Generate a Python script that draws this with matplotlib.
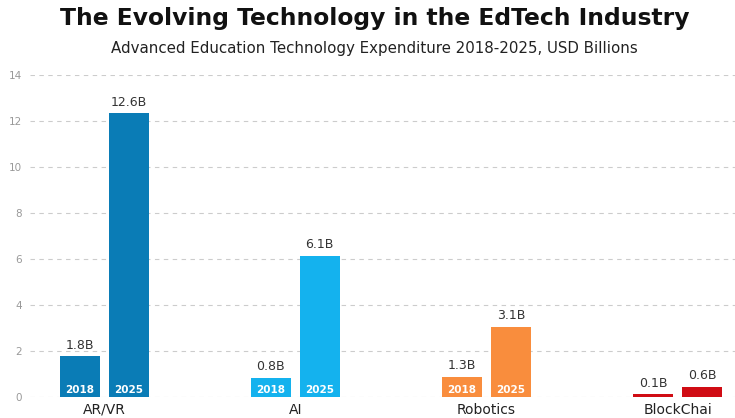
import numpy as np
import matplotlib.pyplot as plt

# Data
categories = ['AR/VR', 'AI', 'Robotics', 'BlockChai']
years = ['2018', '2025']
heights_2018 = [1.78, 0.83, 0.88, 0.13]
heights_2025 = [12.35, 6.15, 3.05, 0.45]
labels_2018 = ['1.8B', '0.8B', '1.3B', '0.1B']
labels_2025 = ['12.6B', '6.1B', '3.1B', '0.6B']
colors = ['#0a7cb6', '#14b2ee', '#f98d3d', '#d00c14']

fig = plt.figure(figsize=(7.35, 4.18), dpi=100)
ax = fig.add_axes([0.041, 0.05, 0.959, 0.77])

x = np.arange(len(categories))
w = 0.21
off = 0.128

for i in range(len(categories)):
    for h, lab, yr, dx in [(heights_2018[i], labels_2018[i], years[0], -off),
                           (heights_2025[i], labels_2025[i], years[1], off)]:
        ax.bar(x[i] + dx, h, width=w, color=colors[i], zorder=3)
        ax.text(x[i] + dx, h + 0.2, lab, ha='center', va='bottom',
                fontsize=9, color='#333333', zorder=4)
        if h > 0.6:
            ax.text(x[i] + dx, 0.3, yr, ha='center', va='center',
                    fontsize=7.5, color='white', fontweight='bold', zorder=4)

ax.set_xlim(-0.387, 3.30)
ax.set_ylim(0, 14)
ax.set_yticks(range(0, 15, 2))
ax.set_xticks(x)
ax.set_xticklabels(categories, fontsize=10, color='#222222')
ax.tick_params(axis='y', labelsize=7.5, labelcolor='#999999', length=0, pad=6)
ax.tick_params(axis='x', length=0, pad=4)
ax.yaxis.grid(True, linestyle=(0, (4, 4)), color='#cccccc', linewidth=0.8, zorder=0)
for s in ax.spines.values():
    s.set_visible(False)

fig.text(0.51, 0.955, 'The Evolving Technology in the EdTech Industry',
         ha='center', va='center', fontsize=16.8, fontweight='bold', color='#111111')
fig.text(0.51, 0.885, 'Advanced Education Technology Expenditure 2018-2025, USD Billions',
         ha='center', va='center', fontsize=10.8, color='#222222')

plt.savefig('out.png', dpi=100)
